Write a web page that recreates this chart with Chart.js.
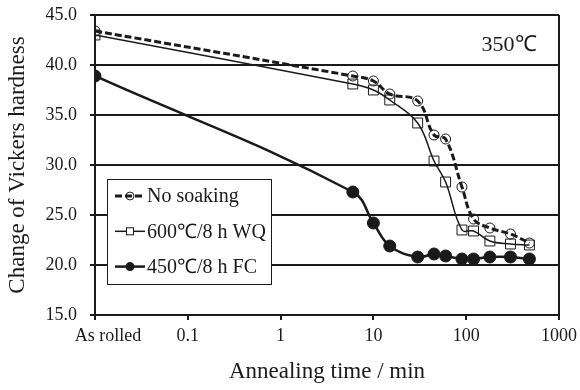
<!DOCTYPE html>
<html>
<head>
<meta charset="utf-8">
<script src="https://cdn.jsdelivr.net/npm/chart.js@4.4.1/dist/chart.umd.min.js"></script>
<style>
html,body{margin:0;padding:0;background:#fff;}
#wrap{width:580px;height:390px;position:relative;}
</style>
</head>
<body>
<div id="wrap"><canvas id="c" width="580" height="390"></canvas></div>
<script>
// Annealing time (min); 0.01 stands for "As rolled"
const times = [0.01, 6, 10, 15, 30, 45, 60, 90, 120, 180, 300, 480];
const noSoaking = [43.4, 38.9, 38.4, 37.1, 36.4, 33.0, 32.6, 27.8, 24.6, 23.7, 23.1, 22.2];
const wq600     = [43.0, 38.1, 37.5, 36.5, 34.2, 30.4, 28.3, 23.5, 23.4, 22.4, 22.1, 22.0];
const fc450     = [38.9, 27.3, 24.2, 21.9, 20.8, 21.1, 20.9, 20.6, 20.6, 20.8, 20.8, 20.6];
const seriesNames = ['No soaking', '600\u2103/8 h WQ', '450\u2103/8 h FC'];
const xTickValues = [0.01, 0.1, 1, 10, 100, 1000];
const xTickLabels = ['As rolled', '0.1', '1', '10', '100', '1000'];
const yTicks = [15, 20, 25, 30, 35, 40, 45];
const tempLabel = '350\u2103';
const xTitle = 'Annealing time / min';
const yTitle = 'Change of Vickers hardness';

const SERIF = '"Liberation Serif", "Times New Roman", serif';
const INK = '#1a1a1a';
const TICK_FONT = 18, TICK_PAD = 5, TICK_LEN = 5;

function pts(vals){ return times.map((t,i)=>({x:t, y:vals[i]})); }

const legendPlugin = {
  id: 'boxLegend',
  afterDatasetsDraw(chart){
    const ctx = chart.ctx, a = chart.chartArea, xs = chart.scales.x;
    ctx.save();
    // temperature label
    ctx.font = '22px ' + SERIF;
    ctx.fillStyle = INK;
    ctx.textAlign = 'center';
    ctx.textBaseline = 'middle';
    ctx.fillText(tempLabel, a.right - 50, a.top + 30);
    // first x tick label ("As rolled"), set right of its tick as in the original
    ctx.font = TICK_FONT + 'px ' + SERIF;
    ctx.fillText(xTickLabels[0], xs.getPixelForValue(xTickValues[0]) + 13, xs.top + TICK_LEN + TICK_PAD + TICK_FONT * 0.6);
    // frame right border
    ctx.strokeStyle = INK; ctx.lineWidth = 2;
    ctx.beginPath(); ctx.moveTo(a.right, a.top); ctx.lineTo(a.right, a.bottom); ctx.stroke();
    // legend box
    const bx = a.left + 12, by = a.top + 164, bw = 164, bh = 105;
    ctx.fillStyle = '#fff';
    ctx.fillRect(bx, by, bw, bh);
    ctx.lineWidth = 1; ctx.strokeStyle = INK;
    ctx.strokeRect(bx + 0.5, by + 0.5, bw, bh);
    chart.data.datasets.forEach((ds, i) => {
      const cy = by + 17 + i * 35.3;
      const x0 = bx + 8, x1 = bx + 38, mx = bx + 23;
      ctx.save();
      ctx.strokeStyle = INK;
      ctx.lineWidth = ds.borderWidth;
      ctx.setLineDash(ds.borderDash || []);
      ctx.beginPath(); ctx.moveTo(x0, cy); ctx.lineTo(x1, cy); ctx.stroke();
      ctx.setLineDash([]);
      ctx.lineWidth = 1;
      if (ds.pointStyle === 'rect') {
        ctx.fillStyle = '#fff';
        ctx.fillRect(mx - 3.5, cy - 3.5, 7, 7);
        ctx.strokeRect(mx - 3.5, cy - 3.5, 7, 7);
      } else if (ds.pointBackgroundColor === INK) {
        ctx.fillStyle = INK;
        ctx.beginPath(); ctx.arc(mx, cy, 4.5, 0, Math.PI*2); ctx.fill();
      } else {
        ctx.beginPath(); ctx.arc(mx, cy, 4, 0, Math.PI*2); ctx.stroke();
      }
      ctx.restore();
      ctx.font = '20px ' + SERIF;
      ctx.fillStyle = INK;
      ctx.textAlign = 'left';
      ctx.textBaseline = 'middle';
      ctx.fillText(ds.label, x1 + 2, cy + 1);
    });
    ctx.restore();
  }
};

new Chart(document.getElementById('c'), {
  type: 'line',
  data: {
    datasets: [
      { label: seriesNames[0], data: pts(noSoaking), borderColor: INK, borderWidth: 3, borderDash: [7,3],
        pointStyle: 'circle', pointRadius: 5, pointBorderWidth: 1, pointBorderColor: INK,
        pointBackgroundColor: 'rgba(255,255,255,0)', tension: 0.4, order: 1 },
      { label: seriesNames[1], data: pts(wq600), borderColor: INK, borderWidth: 1.5,
        pointStyle: 'rect', pointRadius: 7, pointBorderWidth: 1, pointBorderColor: INK,
        pointBackgroundColor: 'rgba(255,255,255,0)', tension: 0.4, order: 2 },
      { label: seriesNames[2], data: pts(fc450), borderColor: INK, borderWidth: 2.5,
        pointStyle: 'circle', pointRadius: 6, pointBorderWidth: 1, pointBorderColor: INK,
        pointBackgroundColor: INK, tension: 0.4, order: 3 }
    ]
  },
  options: {
    responsive: false,
    animation: false,
    layout: { padding: { top: 15, right: 21, left: 0, bottom: 0 } },
    plugins: { legend: { display: false }, tooltip: { enabled: false } },
    elements: { line: { cubicInterpolationMode: 'default' } },
    scales: {
      x: {
        type: 'logarithmic', min: 0.01, max: 1000,
        afterBuildTicks(s){ s.ticks = xTickValues.map(v => ({value: v})); },
        afterFit(s){ s.height = 75; s.paddingLeft = 0; s.paddingRight = 0; },
        ticks: {
          autoSkip: false, maxRotation: 0, padding: TICK_PAD, color: INK,
          font: { family: SERIF, size: TICK_FONT },
          callback(v){ const i = xTickValues.indexOf(v); return i > 0 ? xTickLabels[i] : ''; }
        },
        grid: { drawOnChartArea: false, drawTicks: true, tickLength: TICK_LEN, color: INK, lineWidth: 2 },
        border: { display: true, color: INK, width: 2 },
        title: { display: true, text: xTitle, color: INK, font: { family: SERIF, size: 23 }, padding: { top: 0, bottom: 4 } }
      },
      y: {
        min: 15, max: 45,
        afterBuildTicks(s){ s.ticks = yTicks.map(v => ({value: v})); },
        afterFit(s){ s.width = 95; s.paddingTop = 0; s.paddingBottom = 0; },
        ticks: { padding: 13, color: INK, font: { family: SERIF, size: TICK_FONT },
          callback(v){ return Number(v).toFixed(1); } },
        grid: { color: INK, lineWidth: 2, drawTicks: true, tickLength: TICK_LEN },
        border: { display: true, color: INK, width: 2 },
        title: { display: true, text: yTitle, color: INK, font: { family: SERIF, size: 23 }, padding: { top: 4, bottom: 0 } }
      }
    }
  },
  plugins: [legendPlugin]
});
</script>
</body>
</html>
